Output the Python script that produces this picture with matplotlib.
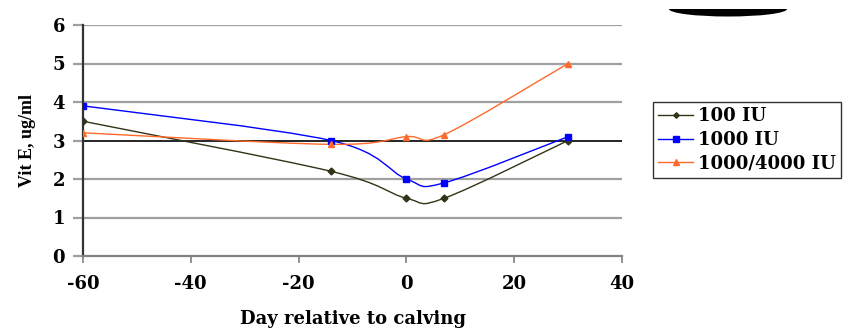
import numpy as np
import matplotlib
matplotlib.use('Agg')
import matplotlib.pyplot as plt
from matplotlib.path import Path
from matplotlib.patches import PathPatch, Ellipse, Rectangle
from matplotlib.lines import Line2D

# data
days = [-60, -14, 0, 7, 30]
iu100 = [3.5, 2.2, 1.5, 1.5, 3.0]
iu1000 = [3.9, 3.0, 2.0, 1.9, 3.1]
iu1000_4000 = [3.2, 2.9, 3.1, 3.15, 5.0]
labels = ['100 IU', '1000 IU', '1000/4000 IU']
y_ticks = [0, 1, 2, 3, 4, 5, 6]
x_ticks = [-60, -40, -20, 0, 20, 40]

plt.rcParams['font.family'] = ['DejaVu Serif']
plt.rcParams['font.weight'] = 'bold'
plt.rcParams['axes.unicode_minus'] = False


def smooth_path(x, y):
    # Excel style smoothed line: cubic bezier segments, tension 1/6
    pts = np.column_stack([x, y]).astype(float)
    n = len(pts)
    verts = [pts[0]]
    codes = [Path.MOVETO]
    for i in range(n - 1):
        p_prev = pts[i - 1] if i > 0 else pts[i]
        p_next2 = pts[i + 2] if i + 2 < n else pts[i + 1]
        c1 = pts[i] + (pts[i + 1] - p_prev) / 6.0
        c2 = pts[i + 1] - (p_next2 - pts[i]) / 6.0
        verts += [c1, c2, pts[i + 1]]
        codes += [Path.CURVE4] * 3
    return Path(verts, codes)


fig = plt.figure(figsize=(8.5, 3.28), dpi=100)
ax = fig.add_axes([83 / 850, 1 - 256 / 328, 539 / 850, 231 / 328])

series = [
    (iu100, '#333318', 'D', 3.5),
    (iu1000, '#0000ff', 's', 5),
    (iu1000_4000, '#ff6a2a', '^', 5),
]

handles = []
for vals, color, marker, ms in series:
    ax.add_patch(PathPatch(smooth_path(days, vals), facecolor='none',
                           edgecolor=color, lw=1.0, zorder=3))
    ax.plot(days, vals, linestyle='none', marker=marker, ms=ms,
            color=color, zorder=4)
    handles.append(Line2D([0], [0], color=color, lw=1.0, marker=marker,
                          ms=ms * 0.8))

ax.set_xlim(-60, 40)
ax.set_ylim(0, 6)
ax.set_xticks(x_ticks)
ax.set_yticks(y_ticks)

# gridlines, the 3 line is drawn black
for yv in y_ticks[1:]:
    if yv == 3:
        ax.axhline(yv, color='black', lw=1.2, zorder=2)
    else:
        ax.axhline(yv, color='#a0a0a0', lw=1.6, zorder=1)

for s in ['top', 'right']:
    ax.spines[s].set_visible(False)
ax.spines['left'].set_color('#333333')
ax.spines['left'].set_linewidth(1.6)
ax.spines['bottom'].set_color('#808080')
ax.spines['bottom'].set_linewidth(1.6)
ax.tick_params(axis='y', length=7, width=1.6, color='#a0a0a0',
               labelsize=13, pad=6)
ax.tick_params(axis='x', length=5, width=1.2, color='#808080',
               labelsize=13, pad=9)

ax.set_xlabel('Day relative to calving', fontsize=13, fontweight='bold',
              labelpad=12)
ax.set_ylabel('Vit E, ug/ml', fontsize=13, fontweight='bold',
              family='Liberation Serif', labelpad=12)

leg = fig.legend(handles, labels, loc='upper left',
                 bbox_to_anchor=(653 / 850, 1 - 102 / 328),
                 frameon=True, fancybox=False, fontsize=13,
                 handlelength=1.9, handletextpad=0.3, borderpad=0.3,
                 labelspacing=0.3, borderaxespad=0)
leg.get_frame().set_edgecolor('black')
leg.get_frame().set_linewidth(1.0)

# black blob at top right
clip = Rectangle((0.7, 0.9), 0.3, 1 - 9 / 328 - 0.9,
                 transform=fig.transFigure)
blob = Ellipse((728 / 850, 1 - 9 / 328), 118 / 850, 15 / 328,
               transform=fig.transFigure, facecolor='black',
               edgecolor='none')
fig.add_artist(blob)
blob.set_clip_path(clip)

fig.savefig('out.png', dpi=100)
